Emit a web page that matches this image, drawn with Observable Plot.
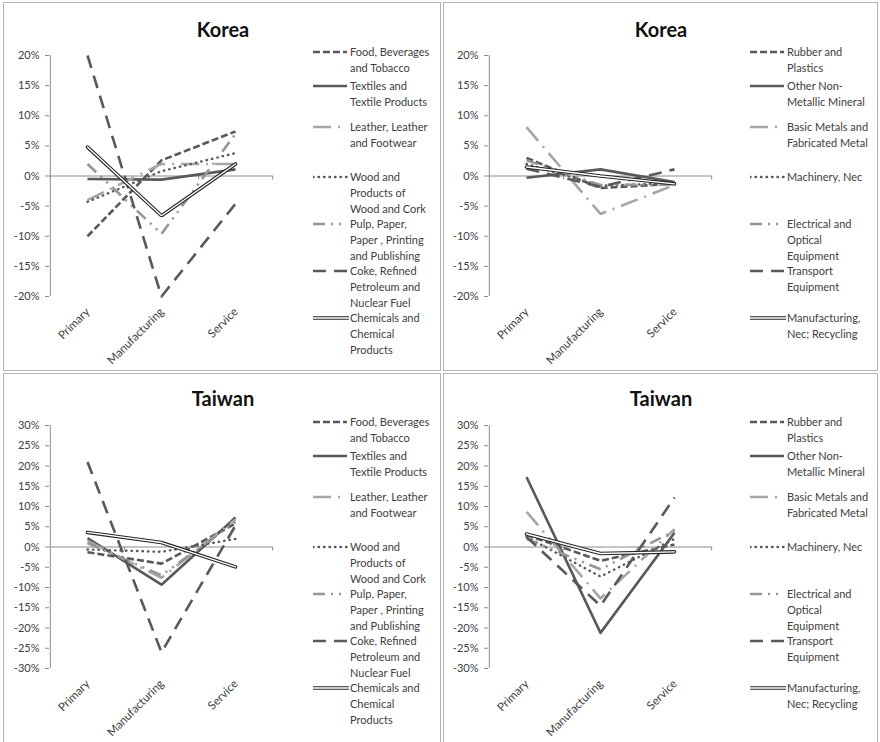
<!DOCTYPE html>
<html><head><meta charset="utf-8">
<script src="https://cdn.jsdelivr.net/npm/d3@7"></script>
<script src="https://cdn.jsdelivr.net/npm/@observablehq/plot@0.6"></script>
<style>
body{margin:0;background:#fff;}
#page{position:relative;width:880px;height:742px;overflow:hidden;font-family:Lato,"Open Sans",sans-serif;color:#404040;}
.panel{position:absolute;border:1.5px solid #b4b4b4;box-sizing:border-box;background:#fff;}
.title{position:absolute;font-weight:bold;font-size:20px;color:#111;transform:translate(-50%,-50%);white-space:nowrap;}
.plot{position:absolute;}
.leg{position:absolute;font-size:11px;line-height:16px;white-space:nowrap;color:#404040;}
</style></head><body><div id="page"></div>
<script>
// ---- data ----
const categories = ["Primary", "Manufacturing", "Service"];
const legendA = [
  ["Food, Beverages", "and Tobacco"],
  ["Textiles and", "Textile Products"],
  ["Leather, Leather", "and Footwear"],
  ["Wood and", "Products of", "Wood and Cork"],
  ["Pulp, Paper,", "Paper , Printing", "and Publishing"],
  ["Coke, Refined", "Petroleum and", "Nuclear Fuel"],
  ["Chemicals and", "Chemical", "Products"]
];
const legendB = [
  ["Rubber and", "Plastics"],
  ["Other Non-", "Metallic Mineral"],
  ["Basic Metals and", "Fabricated Metal"],
  ["Machinery, Nec"],
  ["Electrical and", "Optical", "Equipment"],
  ["Transport", "Equipment"],
  ["Manufacturing,", "Nec; Recycling"]
];
const yTicksKorea = [-20, -15, -10, -5, 0, 5, 10, 15, 20];
const yTicksTaiwan = [-30, -25, -20, -15, -10, -5, 0, 5, 10, 15, 20, 25, 30];
// values in % : [Primary, Manufacturing, Service], one row per series (legend order)
const koreaA = [
  [-10.0, 2.6, 7.4],
  [-0.5, -0.6, 1.1],
  [-4.0, 2.0, 2.0],
  [-4.3, 0.8, 3.8],
  [2.0, -9.6, 7.0],
  [20.0, -20.0, -4.6],
  [4.8, -6.6, 2.0]
];
const koreaB = [
  [3.0, -2.0, -1.3],
  [-0.3, 1.1, -1.0],
  [8.1, -6.3, -1.5],
  [2.0, -1.6, -1.2],
  [2.6, -1.5, -1.4],
  [1.2, -1.8, 1.1],
  [1.5, 0.0, -1.3]
];
const taiwanA = [
  [-1.3, -4.1, 5.8],
  [2.2, -9.3, 7.3],
  [1.5, -7.6, 6.8],
  [-0.6, -1.2, 2.0],
  [1.0, -7.0, 6.2],
  [21.0, -26.0, 5.3],
  [3.6, 1.1, -4.9]
];
const taiwanB = [
  [3.0, -3.4, 0.6],
  [17.3, -21.2, 3.5],
  [8.7, -12.7, 4.4],
  [2.5, -7.3, 2.0],
  [2.0, -5.5, 4.0],
  [2.5, -14.5, 12.2],
  [3.2, -1.6, -1.2]
];

// ---- styles ----
const seriesStyles = [
  {stroke: "#595959", dash: "7,3", width: 2.6, cap: "butt"},
  {stroke: "#595959", dash: null, width: 2.6, cap: "butt"},
  {stroke: "#a6a6a6", dash: "18,7,2,7", width: 2.6, cap: "butt"},
  {stroke: "#595959", dash: "0.5,5", width: 2.4, cap: "round"},
  {stroke: "#969696", dash: "12,6,2,6,2,6", width: 2.6, cap: "butt"},
  {stroke: "#595959", dash: "13,8", width: 2.6, cap: "butt"},
  {double: true}
];
const legendFirstLine = [52, 86, 127, 177, 224, 271, 318];

const page = document.getElementById("page");

function addPanel(cfg) {
  const box = document.createElement("div");
  box.className = "panel";
  Object.assign(box.style, {left: cfg.box[0] + "px", top: cfg.box[1] + "px", width: cfg.box[2] + "px", height: cfg.box[3] + "px"});
  page.appendChild(box);

  const t = document.createElement("div");
  t.className = "title";
  t.textContent = cfg.title;
  Object.assign(t.style, {left: cfg.titleX + "px", top: cfg.titleY + "px"});
  page.appendChild(t);

  const rows = [];
  cfg.values.forEach((vals, i) => vals.forEach((v, j) => rows.push({series: i, cat: categories[j], v})));

  const innerW = 223;
  const step = innerW / 3;
  const dom = [cfg.ticks[0], cfg.ticks[cfg.ticks.length - 1]];
  const marks = [
    Plot.ruleY([0], {stroke: "#8c8c8c", strokeWidth: 1}),
    Plot.ruleX(categories, {x: d => d, y1: 0, y2: 0, dx: step / 2, insetBottom: -4, stroke: "#8c8c8c"}),
    Plot.ruleX([categories[0]], {x: d => d, y1: dom[0], y2: dom[1], dx: -step / 2, stroke: "#8c8c8c"}),
    Plot.axisY({ticks: cfg.ticks, tickFormat: d => d + "%", tickSize: 4, tickPadding: 6, stroke: "#8c8c8c", fill: "#404040", fontSize: 11, label: null}),
    Plot.text(categories, {x: d => d, frameAnchor: "bottom", rotate: -45, textAnchor: "end", dy: 16, dx: 3, fontSize: 11.5, fill: "#404040"})
  ];
  seriesStyles.forEach((s, i) => {
    const data = rows.filter(r => r.series === i);
    if (s.double) {
      marks.push(Plot.line(data, {x: "cat", y: "v", stroke: "#262626", strokeWidth: 3.6, strokeLinejoin: "miter"}));
      marks.push(Plot.line(data, {x: "cat", y: "v", stroke: "#ffffff", strokeWidth: 1.4, strokeLinejoin: "miter"}));
    } else {
      marks.push(Plot.line(data, {x: "cat", y: "v", stroke: s.stroke, strokeWidth: s.width, strokeDasharray: s.dash, strokeLinecap: s.cap, strokeLinejoin: "round"}));
    }
  });

  const svg = Plot.plot({
    width: 45 + innerW + 22,
    height: cfg.mt + cfg.innerH + 72,
    marginLeft: 45, marginRight: 22, marginTop: cfg.mt, marginBottom: 72,
    x: {type: "point", domain: categories, padding: 0.5, axis: null},
    y: {domain: dom, axis: null},
    style: {fontFamily: "Lato, 'Open Sans', sans-serif", fontSize: "11px", background: "transparent", overflow: "visible"},
    marks
  });
  svg.classList.add("plot");
  Object.assign(svg.style, {left: cfg.left + "px", top: cfg.top + "px"});
  page.appendChild(svg);

  // legend
  cfg.labels.forEach((lines, i) => {
    const y0 = cfg.legendTop + legendFirstLine[i];
    const d = document.createElement("div");
    d.className = "leg";
    Object.assign(d.style, {left: (cfg.legendX + 37) + "px", top: (y0 - 8) + "px"});
    d.innerHTML = lines.join("<br>");
    page.appendChild(d);
    const s = seriesStyles[i];
    const sv = d3.select(page).append("svg")
      .attr("width", 36).attr("height", 10)
      .style("position", "absolute")
      .style("left", cfg.legendX + "px").style("top", (y0 - 5) + "px");
    if (s.double) {
      sv.append("line").attr("x1", 0).attr("x2", 36).attr("y1", 5).attr("y2", 5).attr("stroke", "#262626").attr("stroke-width", 3.6);
      sv.append("line").attr("x1", 0).attr("x2", 36).attr("y1", 5).attr("y2", 5).attr("stroke", "#fff").attr("stroke-width", 1.4);
    } else {
      sv.append("line").attr("x1", 0).attr("x2", 34).attr("y1", 5).attr("y2", 5)
        .attr("stroke", s.stroke).attr("stroke-width", s.width)
        .attr("stroke-dasharray", s.dash).attr("stroke-linecap", s.cap);
    }
  });
}

const panels = [
  {values: koreaA, labels: legendA, ticks: yTicksKorea, title: "Korea", box: [3, 2, 438, 369], left: 4, top: 3, mt: 52, innerH: 241, titleX: 223, titleY: 29, legendX: 313, legendTop: 0},
  {values: koreaB, labels: legendB, ticks: yTicksKorea, title: "Korea", box: [443, 2, 435, 369], left: 443, top: 3, mt: 52, innerH: 241, titleX: 661, titleY: 29, legendX: 750, legendTop: 0},
  {values: taiwanA, labels: legendA, ticks: yTicksTaiwan, title: "Taiwan", box: [3, 373, 438, 375], left: 4, top: 373, mt: 52, innerH: 243, titleX: 223, titleY: 398, legendX: 313, legendTop: 370},
  {values: taiwanB, labels: legendB, ticks: yTicksTaiwan, title: "Taiwan", box: [443, 373, 435, 375], left: 443, top: 373, mt: 52, innerH: 243, titleX: 661, titleY: 398, legendX: 750, legendTop: 370}
];
panels.forEach(addPanel);
</script>
</body></html>
